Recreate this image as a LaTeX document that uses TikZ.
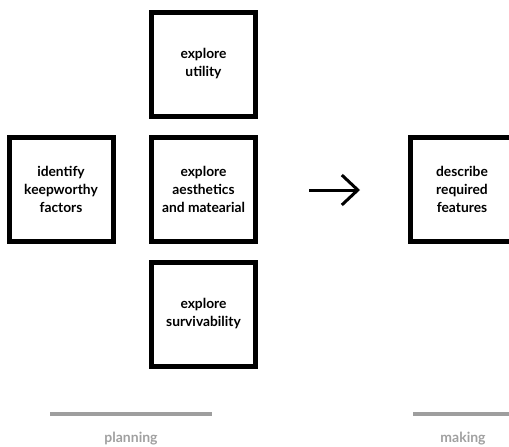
\documentclass[tikz,border=0pt]{standalone}
\usepackage{fontspec}
\setmainfont{Lato}
\usetikzlibrary{arrows.meta}
\definecolor{rulegray}{HTML}{9E9E9E}
\definecolor{labelgray}{HTML}{A0A0A0}
\begin{document}
\begin{tikzpicture}[x=1pt,y=-1pt,
  stepbox/.style={draw=black, line width=5pt, minimum width=104pt, minimum height=104pt,
    inner sep=0pt, align=center, font=\fontsize{13.8}{18}\selectfont\bfseries},
  phaserule/.style={draw=rulegray, line width=4pt},
  phaselabel/.style={text=labelgray, font=\fontsize{14}{16}\selectfont\bfseries}]
\useasboundingbox (0,0) rectangle (509,447);
% planning stage boxes
\node[stepbox] (utility) at (203.5,64) {explore\\utility};
\node[stepbox] (aesth) at (203.5,189) {explore\\aesthetics\\and matearial};
\node[stepbox] (surv) at (203.5,314) {explore\\survivability};
\node[stepbox] (keep) at (61,189) {identify\\keepworthy\\factors};
% making stage box
\node[stepbox] (features) at (462,189) {describe\\required\\features};
% transition arrow
\coordinate (arrA) at (309,190);
\coordinate (arrB) at (360,190);
\draw[line width=3pt, -{Straight Barb[length=16pt,width=30pt,line width=3pt]}] (arrA) -- (arrB);
% phase rules and labels
\coordinate (planL) at (50,414);
\coordinate (planR) at (212,414);
\coordinate (makeL) at (413,414);
\coordinate (makeR) at (509,414);
\draw[phaserule] (planL) -- (planR);
\draw[phaserule] (makeL) -- (makeR);
\node[phaselabel] (planning) at (131,439) {planning};
\node[phaselabel] (making) at (463,439) {making};
\end{tikzpicture}
\end{document}
